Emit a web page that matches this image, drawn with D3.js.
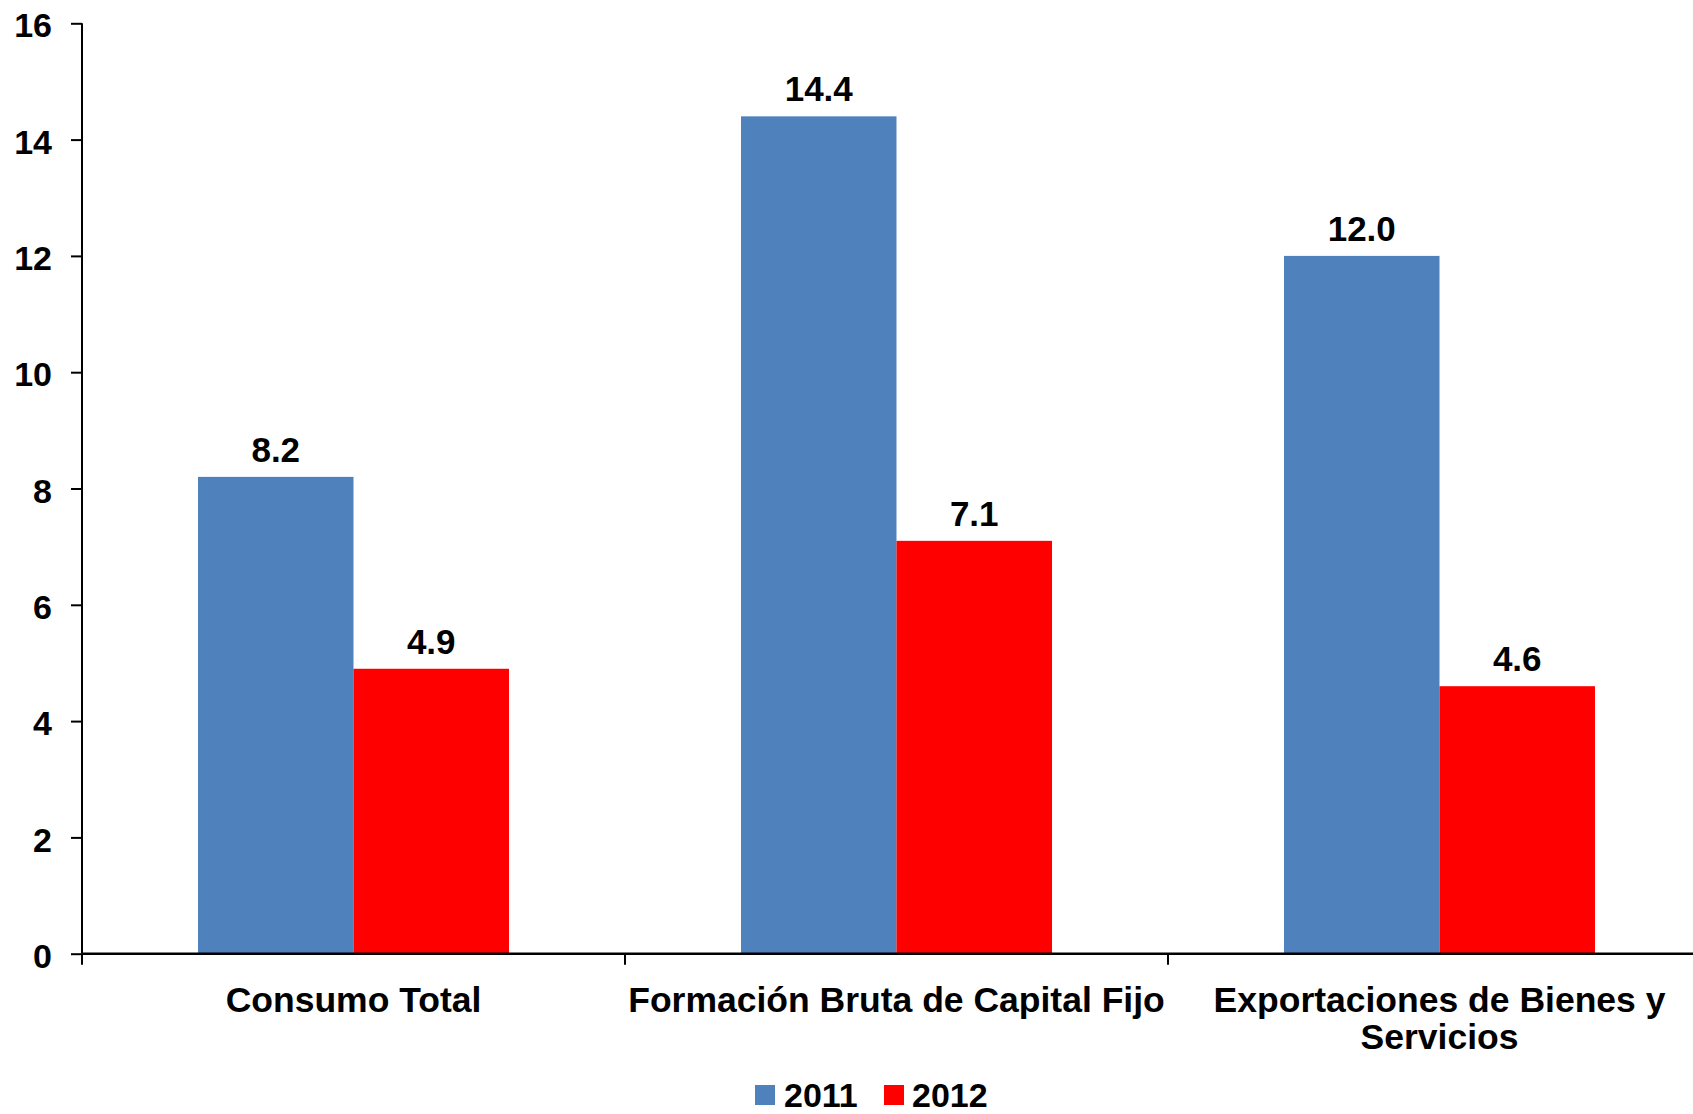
<!DOCTYPE html>
<html>
<head>
<meta charset="utf-8">
<script src="https://cdn.jsdelivr.net/npm/d3@7"></script>
<style>
  html, body { margin: 0; padding: 0; background: #fff; overflow: hidden; }
  svg { display: block; font-family: "Liberation Sans", Arial, sans-serif; font-weight: bold; }
</style>
</head>
<body>
<svg id="chart" width="1693" height="1114"></svg>
<script>
// Categories (each may wrap onto several lines)
const categories = ["Consumo Total", "Formación Bruta de Capital Fijo", "Exportaciones de Bienes y Servicios"];
const categoryLines = [["Consumo Total"], ["Formación Bruta de Capital Fijo"], ["Exportaciones de Bienes y", "Servicios"]];
const seriesNames = ["2011", "2012"];
const values2011 = [8.2, 14.4, 12.0];
const values2012 = [4.9, 7.1, 4.6];
const yTicks = [0, 2, 4, 6, 8, 10, 12, 14, 16];
const colors = ["#4F81BD", "#FF0000"];

const svg = d3.select("#chart");

const plot = { left: 82, right: 1711, top: 23.3, bottom: 953.7 };

const y = d3.scaleLinear().domain([0, 16]).range([plot.bottom, plot.top]);
const x0 = d3.scaleBand().domain(categories).range([plot.left, plot.right]).padding(0);
const x1 = d3.scaleBand().domain(seriesNames).range([0, x0.bandwidth()])
  .paddingInner(0).paddingOuter(0.746);
const color = d3.scaleOrdinal().domain(seriesNames).range(colors);

const rows = categories.map((c, i) => ({
  category: c,
  values: [
    { series: "2011", value: values2011[i] },
    { series: "2012", value: values2012[i] }
  ]
}));

// Bars
const groups = svg.append("g").selectAll("g")
  .data(rows).join("g")
  .attr("transform", d => `translate(${x0(d.category)},0)`);

groups.selectAll("rect")
  .data(d => d.values).join("rect")
  .attr("x", d => x1(d.series))
  .attr("width", x1.bandwidth())
  .attr("y", d => y(d.value))
  .attr("height", d => y(0) - y(d.value))
  .attr("fill", d => color(d.series));

// Value labels
groups.selectAll("text")
  .data(d => d.values).join("text")
  .attr("x", d => x1(d.series) + x1.bandwidth() / 2)
  .attr("y", d => y(d.value) - 15)
  .attr("text-anchor", "middle")
  .attr("font-size", 35)
  .attr("fill", "#000")
  .text(d => d.value.toFixed(1));

// Y axis
const yAxis = svg.append("g")
  .attr("transform", `translate(${plot.left},0)`)
  .call(d3.axisLeft(y).tickValues(yTicks).tickSize(11).tickPadding(19).tickFormat(d3.format("d")));
yAxis.select(".domain").attr("stroke", "#000").attr("stroke-width", 2)
  .attr("d", `M0,${plot.top}V${plot.bottom}`);
yAxis.selectAll(".tick line").attr("stroke", "#000").attr("stroke-width", 2);
yAxis.selectAll(".tick text")
  .attr("font-size", 34).attr("font-family", "Liberation Sans, Arial, sans-serif")
  .attr("font-weight", "bold").attr("fill", "#000").attr("dy", "0.4em");

// X axis line and category boundary ticks
const xAxis = svg.append("g");
xAxis.append("line")
  .attr("x1", plot.left).attr("x2", plot.right)
  .attr("y1", plot.bottom).attr("y2", plot.bottom)
  .attr("stroke", "#000").attr("stroke-width", 2.5);
const boundaries = categories.map(c => x0(c)).concat([x0(categories[categories.length - 1]) + x0.bandwidth()]);
xAxis.selectAll("line.tick")
  .data(boundaries).join("line")
  .attr("class", "tick")
  .attr("x1", d => d).attr("x2", d => d)
  .attr("y1", plot.bottom).attr("y2", plot.bottom + 11)
  .attr("stroke", "#000").attr("stroke-width", 2);

// Category labels
const catLabels = xAxis.selectAll("text.cat")
  .data(categories).join("text")
  .attr("class", "cat")
  .attr("text-anchor", "middle")
  .attr("font-size", 35.5)
  .attr("fill", "#000");
catLabels.each(function(d, i) {
  const t = d3.select(this);
  const cx = x0(d) + x0.bandwidth() / 2;
  categoryLines[i].forEach((line, j) => {
    t.append("tspan").attr("x", cx).attr("y", 1012 + j * 37).text(line);
  });
});

// Legend
const legendItems = [
  { name: seriesNames[0], sx: 755, tx: 784 },
  { name: seriesNames[1], sx: 884, tx: 912 }
];
const legend = svg.append("g");
legend.selectAll("rect")
  .data(legendItems).join("rect")
  .attr("x", d => d.sx).attr("y", 1085)
  .attr("width", 20).attr("height", 20)
  .attr("fill", d => color(d.name));
legend.selectAll("text")
  .data(legendItems).join("text")
  .attr("x", d => d.tx).attr("y", 1107)
  .attr("font-size", 34)
  .attr("fill", "#000")
  .text(d => d.name);
</script>
</body>
</html>
